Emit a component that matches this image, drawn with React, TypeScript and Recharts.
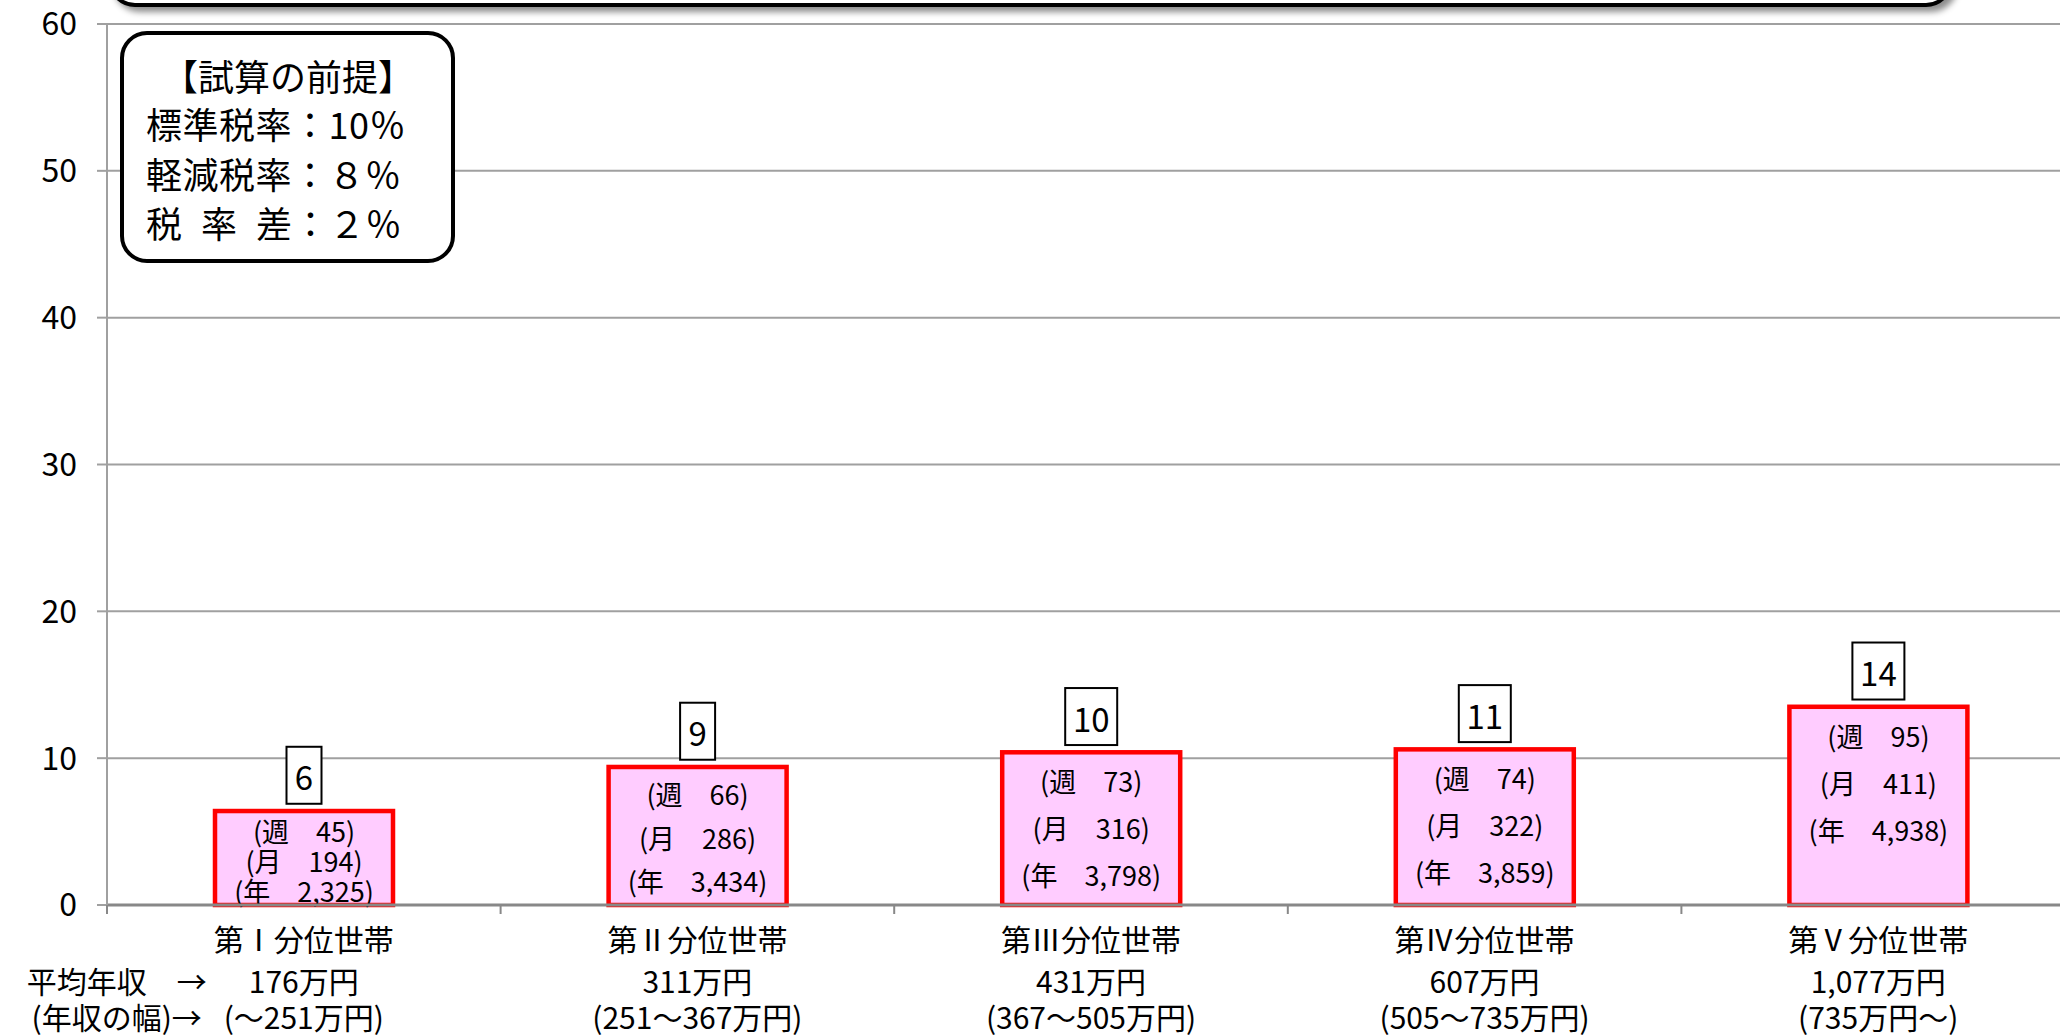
import React from 'react';
import { BarChart, Bar, XAxis, YAxis, CartesianGrid } from 'recharts';

const FONT = '"Noto Sans CJK JP", "Noto Sans", sans-serif';

const categories = ['第Ⅰ分位世帯', '第Ⅱ分位世帯', '第Ⅲ分位世帯', '第Ⅳ分位世帯', '第Ⅴ分位世帯'];
const avgIncome = ['176万円', '311万円', '431万円', '607万円', '1,077万円'];
const incomeRange = ['(～251万円)', '(251～367万円)', '(367～505万円)', '(505～735万円)', '(735万円～)'];
const dailyBurden = [6.4, 9.4, 10.4, 10.6, 13.5];
const burdenLabels = ['6', '9', '10', '11', '14'];
const weekly = [45, 66, 73, 74, 95];
const monthly = [194, 286, 316, 322, 411];
const yearly = [2325, 3434, 3798, 3859, 4938];
const yTicks = [0, 10, 20, 30, 40, 50, 60];
const rowHeaders = ['平均年収　→', '(年収の幅)→'];
const premiseTitle = '【試算の前提】';
const premiseLines = ['標準税率：10％', '軽減税率：８％', '税\u2002率\u2002差：２％'];

const data = categories.map((name, i) => ({
  name,
  value: dailyBurden[i],
  label: burdenLabels[i],
  week: weekly[i],
  month: monthly[i],
  year: yearly[i],
  avg: avgIncome[i],
  range: incomeRange[i],
}));

function BurdenBar(props: any) {
  const { x, y, width, height, payload } = props;
  const cx = x + width / 2;
  const sp = Math.min(47, height * 0.315);
  const first = y + 5 + sp / 2;
  const lines = [
    `(週　${payload.week})`,
    `(月　${payload.month})`,
    `(年　${Number(payload.year).toLocaleString('en-US')})`,
  ];
  const bw = 17 * String(payload.label).length + 18;
  const bh = 57;
  const by = y - 2.25 - 5 - bh;
  return (
    <g>
      <rect x={x} y={y} width={width} height={height} fill="#FFCCFF" stroke="#FF0000" strokeWidth={4.5} />
      <rect x={cx - bw / 2} y={by} width={bw} height={bh} fill="#ffffff" stroke="#000000" strokeWidth={2} />
      <text x={cx} y={by + bh / 2 + 1} textAnchor="middle" dominantBaseline="central" fontSize={33} fontFamily={FONT} fill="#000">
        {payload.label}
      </text>
      {lines.map((t, i) => (
        <text key={i} x={cx} y={first + i * sp} textAnchor="middle" dominantBaseline="central" fontSize={27} fontFamily={FONT} fill="#000">
          {t}
        </text>
      ))}
    </g>
  );
}

function CategoryTick(props: any) {
  const { x, y, payload, index } = props;
  const idx = typeof index === 'number' ? index : payload.index;
  const off = typeof payload.offset === 'number' && payload.offset > 0 ? payload.offset : 196.8;
  const d = data[idx] || data[0];
  const tStyle = { fontSize: 30, fontFamily: FONT, fill: '#000' };
  return (
    <g>
      <line x1={x - off} x2={x - off} y1={y} y2={y + 9} stroke="#888" strokeWidth={2} />
      {idx === data.length - 1 && <line x1={x + off} x2={x + off} y1={y} y2={y + 9} stroke="#888" strokeWidth={2} />}
      <text x={x} y={y + 33} textAnchor="middle" dominantBaseline="central" {...tStyle}>{d.name}</text>
      <text x={x} y={y + 75} textAnchor="middle" dominantBaseline="central" {...tStyle}>{d.avg}</text>
      <text x={x} y={y + 111} textAnchor="middle" dominantBaseline="central" {...tStyle}>{d.range}</text>
      {idx === 0 && (
        <>
          <text x={x - 97} y={y + 75} textAnchor="end" dominantBaseline="central" {...tStyle}>{rowHeaders[0]}</text>
          <text x={x - 102} y={y + 111} textAnchor="end" dominantBaseline="central" {...tStyle}>{rowHeaders[1]}</text>
        </>
      )}
    </g>
  );
}

export default function App() {
  return (
    <div
      style={{
        position: 'absolute',
        left: 0,
        top: 0,
        width: 2060,
        height: 1036,
        overflow: 'hidden',
        background: '#ffffff',
        fontFamily: FONT,
      }}
    >
      <BarChart width={2075} height={1036} data={data} margin={{ top: 24, right: 0, bottom: 0, left: 0 }}>
        <CartesianGrid vertical={false} stroke="#a0a0a0" strokeWidth={2} />
        <XAxis
          dataKey="name"
          height={131}
          interval={0}
          tickLine={false}
          tickSize={0}
          tickMargin={0}
          axisLine={{ stroke: '#888', strokeWidth: 3 }}
          tick={<CategoryTick />}
        />
        <YAxis
          width={107}
          domain={[0, 60]}
          ticks={yTicks}
          interval={0}
          tickSize={10}
          tickMargin={20}
          axisLine={{ stroke: '#a0a0a0', strokeWidth: 2 }}
          tickLine={{ stroke: '#a0a0a0', strokeWidth: 2 }}
          tick={{ fontSize: 32, fill: '#000', fontFamily: FONT }}
        />
        <Bar dataKey="value" barSize={178} isAnimationActive={false} shape={<BurdenBar />} />
      </BarChart>

      <div
        style={{
          position: 'absolute',
          left: 108,
          top: -60,
          width: 1845,
          height: 67,
          boxSizing: 'border-box',
          border: '4px solid #000',
          borderRadius: 27,
          background: '#fff',
          boxShadow: '5px 5px 6px rgba(0,0,0,0.45)',
        }}
      />

      <div
        style={{
          position: 'absolute',
          left: 120,
          top: 31,
          width: 335,
          height: 232,
          boxSizing: 'border-box',
          border: '4px solid #000',
          borderRadius: 27,
          background: '#fff',
          color: '#000',
        }}
      >
        <div style={{ position: 'absolute', left: 38, top: 16, fontSize: 36, lineHeight: '48px', letterSpacing: 0, whiteSpace: 'nowrap' }}>
          {premiseTitle}
        </div>
        {premiseLines.map((t, i) => (
          <div
            key={i}
            style={{ position: 'absolute', left: 22, top: 64 + i * 49.5, fontSize: 36, lineHeight: '48px', letterSpacing: 0.5, whiteSpace: 'nowrap' }}
          >
            {t}
          </div>
        ))}
      </div>
    </div>
  );
}
